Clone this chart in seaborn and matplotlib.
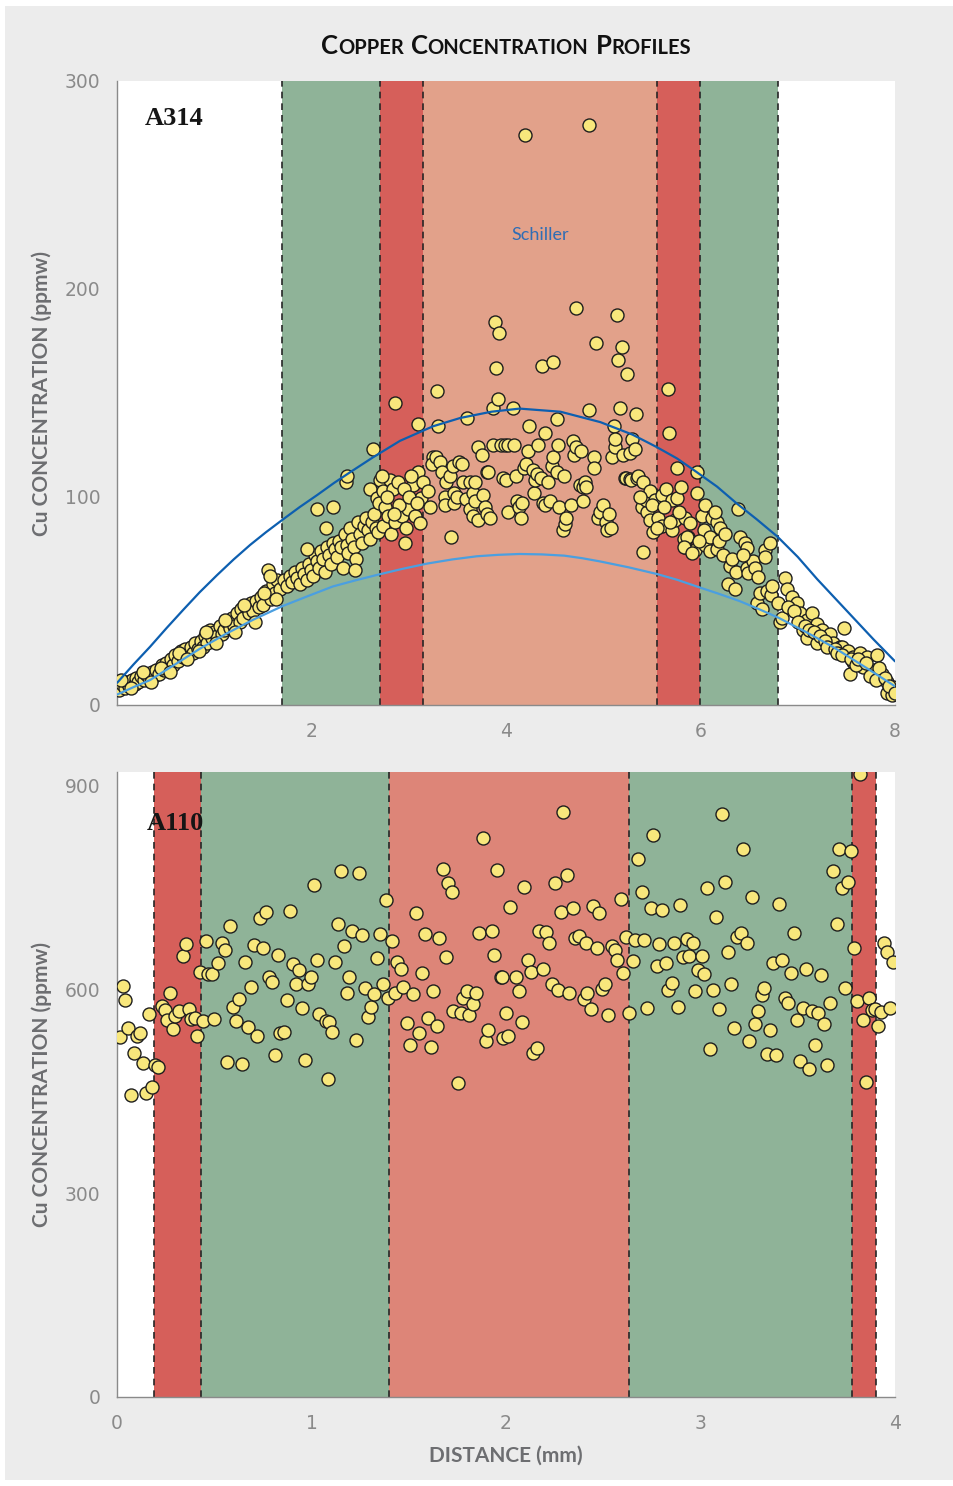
import numpy as np
import matplotlib
matplotlib.use("Agg")
import matplotlib.pyplot as plt
import seaborn as sns
from matplotlib.patches import Rectangle
from matplotlib.offsetbox import TextArea, HPacker, AnchoredOffsetbox

# ---------------- data: A314 (top panel) ----------------
a314_left_x = [0.02,0.05,0.08,0.1,0.12,0.15,0.18,0.2,0.22,0.25,0.28,0.3,0.33,0.36,0.38,0.4,0.43,0.46,0.48,0.5,
               0.53,0.56,0.58,0.6,0.63,0.66,0.68,0.7,0.73,0.76,0.78,0.8,0.83,0.86,0.88,0.9,0.93,0.96,0.98,1.0,
               1.03,1.06,1.08,1.1,1.13,1.16,1.18,1.2,1.23,1.26,1.28,1.3,1.33,1.36,1.38,1.4,1.43,1.46,1.48,1.5,
               1.53,1.55,1.58,1.6,1.62,1.65,1.68]
a314_left_y = [7,10,8,11,9,12,10,13,11,14,12,15,13,16,14,17,15,19,17,20,
               18,22,19,24,21,26,23,27,24,28,25,30,27,31,28,33,30,36,32,35,
               33,38,34,36,40,37,42,38,44,40,46,42,47,44,49,45,50,47,52,48,
               55,65,51,58,54,60,56]
a314_left2_x = [0.04,0.14,0.27,0.35,0.45,0.55,0.64,0.72,0.84,0.92,1.02,1.11,1.21,1.31,1.42,1.51,1.57,1.64]
a314_left2_y = [12,8,16,11,18,16,25,22,26,35,30,41,35,48,40,54,62,51]

a314_green1_x = [1.72,1.75,1.78,1.8,1.83,1.85,1.88,1.9,1.92,1.95,1.97,2.0,2.02,2.04,2.06,2.08,2.1,2.12,2.14,2.16,
                 2.18,2.2,2.22,2.24,2.26,2.28,2.3,2.32,2.34,2.36,2.38,2.4,2.42,2.44,2.46,2.48,2.5,2.52,2.54,2.56,
                 2.58,2.6,2.62,2.64,2.66,2.68,2.06,2.22,2.35,2.37,2.63,1.95,2.15,2.45]
a314_green1_y = [60,57,62,59,64,61,58,66,63,60,68,65,62,72,69,66,74,70,64,76,
                 72,68,78,75,71,79,76,66,82,77,73,85,80,76,70,88,82,78,86,90,
                 84,80,88,92,85,83,94,95,107,110,123,75,85,65]

a314_red1_x = [2.6,2.67,2.69,2.7,2.74,2.74,2.76,2.79,2.81,2.82,2.84,2.86,2.86,2.89,2.93,2.96,2.99,3.04,3.06,3.1,
               3.1,3.12,3.13,3.15,3.2,3.22,3.25,3.3,2.72,2.78,2.9,2.95,3.0,3.08,2.85,2.97,3.02]
a314_red1_y = [104,99.5,97,108,103,86,95,91,108,82,104,88,145,107,91,78,94,106,91,112,
               135,87.5,99.5,107,103,95,119,117,110,100,96,104,100,97,92,85,110]

a314_core1_x = [3.24,3.28,3.29,3.3,3.32,3.34,3.37,3.37,3.38,3.42,3.43,3.45,3.47,3.47,3.5,3.52,3.55,3.56,3.59,3.6,
                3.63,3.63,3.66,3.66,3.68,3.68,3.71,3.71,3.75,3.76,3.78,3.8,3.8,3.81,3.84,3.87,3.87,3.89,3.9,3.92,
                3.93,3.95,3.97,3.99,4.0,4.02,4.02,4.07,4.08,4.1,4.11,4.13,4.15,4.16,4.18,4.2]
a314_core1_y = [116,119,151,134,117,112,100,96,107,110,81,115,102,97,100,117,116,107,99,138,
                94,107,102,91,107,98,124,89,120,101,95,112,92,112,90,143,125,184,162,147,
                179,125,109,125,108,125,93,143,125,110,98,95,90,97,114,274]

a314_core2_x = [4.21,4.23,4.24,4.28,4.29,4.3,4.32,4.33,4.36,4.37,4.38,4.4,4.4,4.43,4.45,4.47,4.48,4.48,4.52,4.52,
                4.53,4.55,4.59,4.6,4.61,4.62,4.67,4.69,4.7,4.72,4.72,4.76,4.77,4.79,4.79,4.81,4.82,4.85,4.85,4.9,
                4.9,4.93,4.95,4.97,5.0]
a314_core2_y = [116,122,134,113,102,108,111,125,109,163,97,131,96,107,98,115,165,119,137.5,112,
                125,95,84,110,87,90,96,127,120,191,124,106,122,98,105,107,105,142,279,119,
                114,174,90,93,96]

a314_core3_x = [5.03,5.04,5.06,5.08,5.09,5.11,5.12,5.12,5.14,5.15,5.17,5.19,5.2,5.22,5.23,5.24,5.27,5.28,5.29,5.3,
                5.33,5.34,5.35,5.36,5.4,5.41,5.41,5.45,5.44,5.48,5.48,5.51,5.53,5.56,5.6,5.6,5.65,5.67,5.68,5.71,
                5.71,5.74,5.76,5.76,5.8,5.84,5.84,5.87,5.89,5.94,5.96,5.96,5.38,5.5,5.62,5.78,5.69,5.55,5.83]
a314_core3_y = [88,84,92,85,119,134,124,128,187.5,166,143,172,120,109,109,159,121,108.5,108,128,
                123,140,109,110,95,107,73.5,93,98.5,103,89,83,98.5,90,101,86,104,152,131,98.5,
                84,89,99.5,114,105,90,76,81,87.5,74.5,102,112,100,96,95,93,88,85,80]

a314_green2_x = [6.02,6.04,6.05,6.05,6.1,6.1,6.12,6.17,6.17,6.19,6.2,6.23,6.28,6.3,6.35,6.37,6.39,6.41,6.46,6.48,
                 6.48,6.49,6.54,6.56,6.58,6.59,6.61,6.63,6.66,6.66,6.68,6.71,6.73,6.74,5.86,5.83,5.91,5.98,
                 6.15,6.25,6.32,6.44]
a314_green2_y = [91,84,96,77,81,74,90,88,75,79,85,72,58,67,56,64,94,81,78,75.5,
                 66,63.5,69,66,49,61.5,54,46,74.5,71,55,78,53,57,81,76,73,79,
                 93,82,70,72]

a314_right_x = [6.8,6.82,6.84,6.87,6.89,6.94,6.99,7.02,7.05,7.09,7.09,7.15,7.2,7.2,7.25,7.33,7.36,7.43,7.48,7.46,
                7.52,7.54,7.57,7.57,7.64,7.67,7.71,7.77,7.81,7.87,7.92,7.92,7.97,7.98,
                6.9,6.96,7.0,7.07,7.12,7.17,7.23,7.28,7.3,7.38,7.4,7.45,7.55,7.6,7.62,7.7,7.74,7.8,7.84,7.9,7.94,8.0]
a314_right_y = [49,40,42,61,56,52,49,44,36,41,32,44,39,30,36,34,30,28,37,28,
                26,15,23,20.5,25,18.5,23,17,24,15,11,6,5,8.5,
                47,45,40,38,36,35,33,31,28,27,25,24,22,19,22,20,14,12,18,13,9,6]

# model curves
curve_upper_x = [0,0.17,0.34,0.51,0.68,0.85,1.03,1.2,1.37,1.53,1.7,1.88,2.06,2.23,2.4,2.63,2.91,3.25,3.53,3.85,4.14,
                 4.56,4.97,5.3,5.55,5.76,5.96,6.17,6.37,6.58,6.79,7.0,7.2,7.38,7.57,7.78,8.0]
curve_upper_y = [10.6,19.5,28,37,45.7,54.2,62.5,70,77,83,89,95.2,101,106.7,112,119,127,134,138,141,142.5,
                 141,136,130,124,118.5,112,105,97,89.2,81,71.2,60.5,51.5,42,31.5,21]
curve_lower_x = [0,0.17,0.34,0.6,0.85,1.12,1.4,1.7,1.96,2.22,2.45,2.67,2.93,3.19,3.45,3.7,3.92,4.14,4.37,4.6,4.78,
                 4.97,5.26,5.55,5.76,5.96,6.18,6.4,6.6,6.8,7.08,7.36,7.68,8.0]
curve_lower_y = [5,8.6,12,19.6,27,34.2,41,47.5,52.3,57,59.9,62.5,65.4,68,70,71.5,72.2,72.6,72.4,71.8,70.6,
                 69,66.2,63,60.2,57,53.6,50,46.1,42,35.2,28,18.6,9]

# zones (mm)
a314_zones = [(1.7, 2.7, "green"), (2.7, 3.15, "red"), (3.15, 5.55, "salmon"), (5.55, 6.0, "red"), (6.0, 6.8, "green")]
a314_dashes = [1.7, 2.7, 3.15, 5.55, 6.0, 6.8]

# ---------------- data: A110 (bottom panel) ----------------
a110_p1_x = [0.015,0.029,0.041,0.058,0.07,0.087,0.101,0.118,0.135,0.149,0.166,0.178,0.195,0.212,0.23,0.247,0.259,0.272,0.29,0.3,
             0.317,0.338,0.355,0.37,0.38,0.4,0.41,0.427,0.44]
a110_p1_y = [530,606,584,543,445,507,532,536,492,448,564,457,489,486,576,570,555,595,541.5,561,
             568,649,667,571,557,558,532,626,554]

a110_p2_x = [0.458,0.468,0.49,0.5,0.52,0.538,0.555,0.564,0.58,0.598,0.612,0.629,0.644,0.658,0.675,0.689,0.704,0.718,0.735,0.752,
             0.766,0.783,0.798,0.812,0.83,0.838,0.859,0.876,0.889,0.903,0.92,0.934,0.951,0.968,0.984,0.997,1.013,1.03,1.04,1.075,
             1.087,1.09,1.104,1.12,1.138,1.152,1.167,1.181,1.194,1.21,1.227,1.244,1.26,1.275,1.289,1.306,1.32,1.335,1.352,1.366,
             1.381,1.395]
a110_p2_y = [672,623,623,556,639,668,659,493,693,575,554,586,490,640,544.5,604,666,531,705,662,
             714,618,611,504,651,536,537,585,716,638,609,629,573,496,609,619,754,643,564,554,
             468,553,538,641,696,774,664,594.5,619,686,526,772,680,603,559,575,593.5,647,682,609,
             732,587]

a110_p3_x = [1.412,1.429,1.441,1.458,1.472,1.489,1.506,1.52,1.537,1.553,1.566,1.584,1.6,1.613,1.626,1.644,1.657,1.675,1.691,1.704,
             1.721,1.729,1.752,1.77,1.78,1.798,1.81,1.829,1.846,1.863,1.88,1.897,1.909,1.926,1.94,1.955,1.973,1.978,1.986,2.0,
             2.012,2.02,2.05,2.067,2.081,2.094,2.113,2.127,2.141,2.158,2.171,2.189,2.206,2.22,2.235,2.252,2.266,2.281,2.295,2.312,
             2.325,2.343,2.354,2.376,2.403,2.41,2.418,2.435,2.449,2.466,2.48,2.492,2.509,2.526,2.543,2.56,2.572,2.59,2.603,2.617]
a110_p3_y = [672,594.5,640,631,604,551,519,593.5,713,536.5,625,682,558,516,598,546,676,777,648,756.5,
             744,568.5,463,566,588,598,562,579,594.5,683,824,525,540.5,686,651,776,619,619,529,565,
             531,722,618,598,552,751,644,625.5,507,513.5,686,630,685,668,609,756.5,600,714,861,769,
             595,720,676,679,586,669,594.5,572,723,661,713,601,608,562,664,659,644,733,625,678]

a110_p4_x = [2.634,2.651,2.663,2.68,2.698,2.711,2.726,2.744,2.757,2.775,2.788,2.804,2.821,2.835,2.852,2.865,2.883,2.896,2.909,2.929,
             2.943,2.96,2.973,2.989,3.006,3.02,3.035,3.049,3.066,3.08,3.095,3.112,3.128,3.143,3.157,3.174,3.186,3.207,3.22,3.238,
             3.251,3.266,3.282,3.297,3.314,3.328,3.34,3.357,3.371,3.388,3.405,3.421,3.434,3.452,3.465,3.483,3.494,3.512,3.525,3.542,
             3.56,3.572,3.589,3.606,3.62,3.635,3.652,3.666,3.683,3.7,3.712,3.726,3.743,3.76,3.774,3.791,3.803,3.82,3.837,3.851,
             3.866,3.88,3.897,3.911,3.928,3.943,3.96,3.974,3.988]
a110_p4_y = [566,642,673,793,744,673,573,720,828,635,667,717,639,600,610,669,575,724.5,647.6,674,
             650,668,597.5,629,650,623,750,512,600,707,571,859,758,655,609,544,678,684,807.5,669,
             524,737,549,569,592,602,505,540.5,639,503,725.6,644,587,580,624,683,555,495,573,631,
             483,568.5,518,565,621.5,549,489,580,775,696,806.6,750,603,758,804,662,583,918,555,464,
             587,570,572,546,566.5,668,655,573,640]

a110_zones = [(0.19, 0.43, "red"), (0.43, 1.4, "green"), (1.4, 2.63, "salmon2"), (2.63, 3.78, "green"), (3.78, 3.9, "red")]
a110_dashes = [0.19, 0.43, 1.4, 2.63, 3.78, 3.9]

# ---------------- styling ----------------
sns.set_style("white")
plt.rcParams["font.family"] = ["Liberation Sans Narrow", "DejaVu Sans"]

ZONE_COLORS = {"green": "#8fb398", "red": "#d65f5a", "salmon": "#e2a18a", "salmon2": "#dd8578"}
TICK_GREY = "#8a8a8a"
LABEL_GREY = "#6d6e71"
PT_FACE = "#f8e77c"

W, H = 954, 1486
fig = plt.figure(figsize=(W / 100, H / 100), dpi=100)
fig.patch.set_facecolor("white")
fig.patches.append(Rectangle((5 / W, 6 / H), 1, 1474 / H, transform=fig.transFigure,
                             facecolor="#ececec", edgecolor="none", zorder=-10))

ax1 = fig.add_axes([117 / W, 1 - 705 / H, 778 / W, 624 / H])
ax2 = fig.add_axes([117 / W, 1 - 1397 / H, 778 / W, 625 / H])


def style_axes(ax):
    ax.set_facecolor("white")
    for s in ["top", "right"]:
        ax.spines[s].set_visible(False)
    for s in ["left", "bottom"]:
        ax.spines[s].set_color(TICK_GREY)
        ax.spines[s].set_linewidth(1.0)
    ax.tick_params(axis="both", direction="out", length=7, width=1, color=TICK_GREY,
                   labelcolor=TICK_GREY, labelsize=13.5, pad=5)
    ax.grid(False)


def draw_zones(ax, zones, dashes):
    for x0, x1, c in zones:
        ax.axvspan(x0, x1, color=ZONE_COLORS[c], lw=0, zorder=0)
    for xd in dashes:
        ax.axvline(xd, color="#262626", lw=1.2, ls=(0, (4, 3)), zorder=1)


def draw_points(ax, xs, ys):
    sns.scatterplot(x=xs, y=ys, ax=ax, color=PT_FACE, edgecolor="#1e1e1e",
                    linewidth=1.0, s=88, zorder=3, legend=False)


# top panel
style_axes(ax1)
draw_zones(ax1, a314_zones, a314_dashes)
for xs, ys in [(a314_left_x, a314_left_y), (a314_left2_x, a314_left2_y), (a314_green1_x, a314_green1_y),
               (a314_red1_x, a314_red1_y), (a314_core1_x, a314_core1_y), (a314_core2_x, a314_core2_y),
               (a314_core3_x, a314_core3_y), (a314_green2_x, a314_green2_y), (a314_right_x, a314_right_y)]:
    draw_points(ax1, xs, ys)
sns.lineplot(x=curve_upper_x, y=curve_upper_y, ax=ax1, color="#0d5fb0", lw=1.6,
             estimator=None, sort=False, zorder=4)
sns.lineplot(x=curve_lower_x, y=curve_lower_y, ax=ax1, color="#4b9fe0", lw=1.6,
             estimator=None, sort=False, zorder=4)
ax1.set_xlim(0, 8)
ax1.set_ylim(0, 300)
ax1.set_xticks([2, 4, 6, 8])
ax1.set_yticks([0, 100, 200, 300])
ax1.text(4.35, 226, "Schiller", color="#2f6db5", fontsize=13, ha="center", va="center",
         family=["Lato", "DejaVu Sans"], zorder=5)
ax1.text(0.285, 282, "A314", fontsize=19, fontweight="bold", color="#151515", ha="left", va="center",
         family=["Liberation Serif", "DejaVu Serif"], zorder=5)

# bottom panel
style_axes(ax2)
draw_zones(ax2, a110_zones, a110_dashes)
for xs, ys in [(a110_p1_x, a110_p1_y), (a110_p2_x, a110_p2_y), (a110_p3_x, a110_p3_y), (a110_p4_x, a110_p4_y)]:
    draw_points(ax2, xs, ys)
ax2.set_xlim(0, 4)
ax2.set_ylim(0, 920.5)
ax2.set_xticks([0, 1, 2, 3, 4])
ax2.set_yticks([0, 300, 600, 900])
ax2.text(0.155, 845, "A110", fontsize=19, fontweight="bold", color="#151515", ha="left", va="center",
         family=["Liberation Serif", "DejaVu Serif"], zorder=5)

for ax in (ax1, ax2):
    ax.set_xlabel("")
    ax.set_ylabel("Cu CONCENTRATION (ppmw)", fontsize=15, fontweight="bold", color=LABEL_GREY,
                  family=["Lato", "DejaVu Sans"])
    ax.yaxis.set_label_coords(-0.083, 0.5)

ax2.set_xlabel("DISTANCE (mm)", fontsize=15, fontweight="bold", color=LABEL_GREY,
               family=["Lato", "DejaVu Sans"])
ax2.xaxis.set_label_coords(0.5, -0.078)

# title in small caps
big, small = 18.5, 14.5
tprops_big = dict(fontsize=big, fontweight="bold", color="#111111", family=["Lato", "DejaVu Sans"])
tprops_small = dict(fontsize=small, fontweight="bold", color="#111111", family=["Lato", "DejaVu Sans"])
words = [("C", "OPPER"), ("C", "ONCENTRATION"), ("P", "ROFILES")]
word_boxes = []
for first, rest in words:
    word_boxes.append(HPacker(children=[TextArea(first, textprops=tprops_big),
                                        TextArea(rest, textprops=tprops_small)],
                              align="baseline", pad=0, sep=0))
title_box = HPacker(children=word_boxes, align="baseline", pad=0, sep=5)
anch = AnchoredOffsetbox(loc="center", child=title_box, bbox_to_anchor=(506 / W, 1 - 46 / H),
                         bbox_transform=fig.transFigure, frameon=False, pad=0, borderpad=0)
fig.add_artist(anch)

fig.savefig("out.png", dpi=100, facecolor=fig.get_facecolor())
